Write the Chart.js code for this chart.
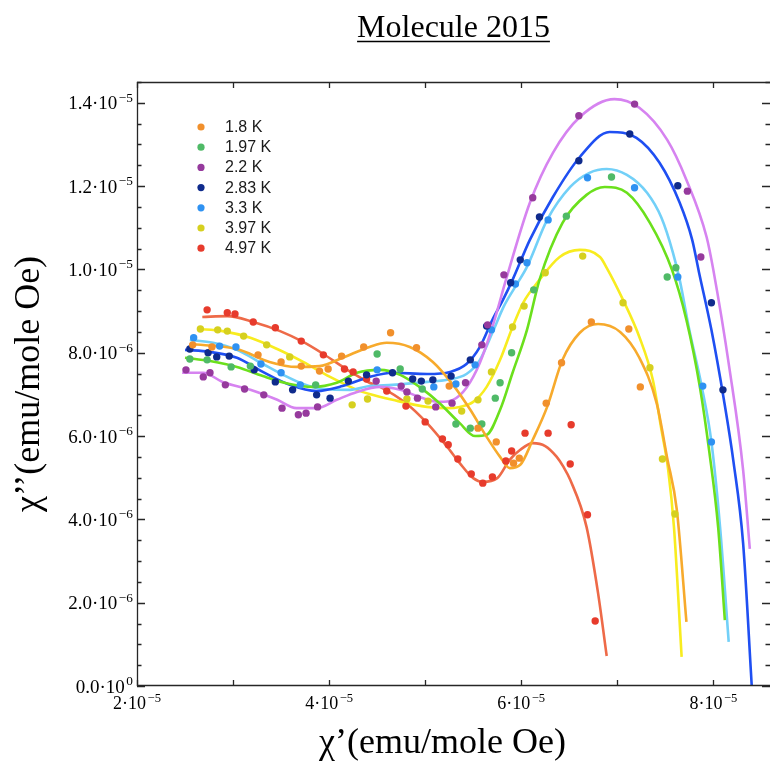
<!DOCTYPE html>
<html>
<head>
<meta charset="utf-8">
<script src="https://cdn.jsdelivr.net/npm/chart.js@4/dist/chart.umd.min.js"></script>
<style>
html,body{margin:0;padding:0;background:#ffffff;overflow:hidden;}
#wrap{width:770px;height:762px;position:relative;}
</style>
</head>
<body>
<div id="wrap"><canvas id="c" width="770" height="762"></canvas></div>
<script>
// ---- text ----
const titleText = 'Molecule 2015';
const xAxisTitle = 'χ’(emu/mole Oe)';
const yAxisTitle = 'χ’’(emu/mole Oe)';
const seriesLabels = ['1.8 K', '1.97 K', '2.2 K', '2.83 K', '3.3 K', '3.97 K', '4.97 K'];

// ---- axes (x in units of 1e-5, y in units of 1e-6) ----
const xMin = 2, xMax = 8.59, xStep = 1;
const yMin = 0, yMax = 14.5, yStep = 0.5;
const xTickValues = [2, 4, 6, 8];
const xTickLabels = ['2·10^−5', '4·10^−5', '6·10^−5', '8·10^−5'];
const yTickValues = [0, 2, 4, 6, 8, 10, 12, 14];
const yTickLabels = ['0.0·10^0', '2.0·10^−6', '4.0·10^−6', '6.0·10^−6', '8.0·10^−6', '1.0·10^−5', '1.2·10^−5', '1.4·10^−5'];

// ---- measured points [χ' (1e-5), χ'' (1e-6)] ----
const pts_1_8K = [[2.58,8.19],[2.78,8.14],[3.26,7.95],[3.50,7.78],[3.71,7.68],[3.90,7.56],[3.99,7.61],[4.13,7.92],[4.36,8.14],[4.64,8.48],[4.91,8.12],[5.25,7.20],[5.55,6.19],[5.74,5.86],[5.92,5.35],[5.98,5.47],[6.26,6.79],[6.42,7.76],[6.73,8.74],[7.12,8.57],[7.24,7.18]];
const pts_1_97K = [[2.55,7.85],[2.73,7.83],[2.98,7.66],[3.18,7.68],[3.86,7.23],[4.50,7.97],[4.74,7.61],[4.97,7.13],[5.32,6.29],[5.47,6.19],[5.59,6.29],[5.73,6.91],[5.78,7.28],[5.90,8.00],[6.13,9.51],[6.47,11.28],[6.94,12.22],[7.52,9.82],[7.61,10.04]];
const pts_2_2K = [[2.51,7.59],[2.69,7.42],[2.76,7.52],[2.92,7.23],[3.12,7.13],[3.32,6.99],[3.51,6.67],[3.68,6.51],[3.76,6.55],[3.88,6.70],[4.49,7.32],[4.75,7.20],[4.81,7.06],[4.92,6.91],[5.11,6.70],[5.28,6.79],[5.42,7.28],[5.59,8.19],[5.65,8.67],[5.82,9.87],[6.12,11.72],[6.60,13.69],[7.18,13.97],[7.73,11.88],[7.87,10.30]];
const pts_2_83K = [[2.55,8.09],[2.74,8.00],[2.83,7.90],[2.96,7.92],[3.22,7.59],[3.44,7.30],[3.62,7.11],[3.87,6.99],[4.01,6.91],[4.20,7.32],[4.39,7.47],[4.66,7.52],[4.87,7.37],[4.96,7.32],[5.08,7.35],[5.27,7.44],[5.47,7.83],[5.64,8.64],[5.89,9.68],[5.99,10.23],[6.19,11.26],[6.60,12.61],[7.13,13.25],[7.63,12.01],[7.98,9.20],[8.10,7.11]];
const pts_3_3K = [[2.59,8.36],[2.86,8.16],[3.03,8.14],[3.29,7.73],[3.50,7.52],[3.70,7.23],[4.50,7.59],[5.09,7.18],[5.32,7.25],[5.52,7.71],[5.69,8.55],[5.94,9.65],[6.06,10.16],[6.28,11.19],[6.69,12.20],[7.18,11.96],[7.63,9.82],[7.89,7.20],[7.98,5.86]];
const pts_3_97K = [[2.66,8.57],[2.84,8.55],[2.94,8.52],[3.11,8.40],[3.35,8.19],[3.59,7.90],[4.24,6.75],[4.40,6.89],[4.81,6.89],[5.03,6.84],[5.38,6.60],[5.55,6.87],[5.69,7.54],[5.91,8.62],[6.03,9.12],[6.25,9.92],[6.64,10.32],[7.06,9.20],[7.34,7.64],[7.47,5.45],[7.60,4.13]];
const pts_4_97K = [[2.73,9.03],[2.94,8.96],[3.02,8.93],[3.21,8.74],[3.44,8.60],[3.71,8.28],[3.94,7.95],[4.16,7.61],[4.25,7.54],[4.39,7.37],[4.60,7.08],[4.80,6.72],[5.00,6.34],[5.18,5.93],[5.24,5.79],[5.34,5.45],[5.48,5.09],[5.60,4.87],[5.70,5.02],[5.84,5.40],[5.90,5.64],[6.04,6.07],[6.28,6.07],[6.52,6.27],[6.51,5.33],[6.69,4.11],[6.77,1.56]];

// ---- fitted curves ----
const fit_1_8K = [[2.55,8.21],[3.04,8.09],[3.38,7.78],[3.66,7.66],[3.90,7.68],[4.14,7.88],[4.42,8.14],[4.60,8.24],[4.84,8.14],[5.08,7.78],[5.29,7.23],[5.47,6.63],[5.64,5.98],[5.78,5.50],[5.88,5.23],[5.99,5.31],[6.12,5.91],[6.27,6.70],[6.43,7.83],[6.61,8.48],[6.80,8.69],[7.03,8.50],[7.23,7.88],[7.41,6.79],[7.52,5.47],[7.62,4.23],[7.72,1.54]];
const fit_1_97K = [[2.50,7.88],[2.76,7.80],[3.04,7.66],[3.31,7.44],[3.59,7.25],[3.83,7.18],[4.08,7.28],[4.29,7.52],[4.53,7.59],[4.74,7.47],[4.94,7.18],[5.15,6.79],[5.36,6.31],[5.52,6.00],[5.64,6.03],[5.78,6.63],[5.91,7.52],[6.06,8.55],[6.19,9.75],[6.43,11.12],[6.68,11.79],[6.87,11.98],[7.10,11.84],[7.34,11.12],[7.57,9.99],[7.72,8.79],[7.86,7.18],[7.96,5.59],[8.05,3.82],[8.12,1.58]];
const fit_2_2K = [[2.47,7.52],[2.69,7.52],[2.89,7.30],[3.18,7.11],[3.46,6.87],[3.66,6.67],[3.87,6.67],[4.08,6.87],[4.29,7.06],[4.53,7.18],[4.74,7.11],[4.94,6.94],[5.15,6.82],[5.29,6.87],[5.43,7.16],[5.57,7.76],[5.70,8.62],[5.85,9.82],[6.09,11.60],[6.33,12.80],[6.61,13.66],[6.97,14.09],[7.23,13.88],[7.52,13.11],[7.72,12.15],[7.93,10.78],[8.00,9.99],[8.17,7.59],[8.31,5.19],[8.38,3.29]];
const fit_2_83K = [[2.50,8.07],[2.76,8.02],[3.04,7.88],[3.31,7.54],[3.59,7.23],[3.87,7.08],[4.14,7.20],[4.42,7.42],[4.66,7.52],[5.02,7.49],[5.26,7.54],[5.43,7.73],[5.57,8.14],[5.70,8.79],[5.81,9.27],[5.91,9.75],[6.09,10.71],[6.33,11.74],[6.61,12.70],[6.92,13.30],[7.20,13.16],[7.44,12.56],[7.65,11.60],[7.78,10.71],[7.85,9.94],[7.98,8.55],[8.11,6.87],[8.21,5.38],[8.31,3.43],[8.40,0.00]];
const fit_3_3K = [[2.55,8.31],[2.79,8.24],[3.04,8.07],[3.31,7.73],[3.52,7.47],[3.73,7.25],[3.94,7.13],[4.22,7.11],[4.42,7.20],[4.66,7.23],[5.02,7.30],[5.23,7.35],[5.43,7.49],[5.57,7.83],[5.70,8.48],[5.82,9.12],[5.95,9.63],[6.06,10.06],[6.27,11.19],[6.51,11.98],[6.71,12.32],[6.89,12.41],[7.10,12.27],[7.31,11.84],[7.46,11.24],[7.58,10.40],[7.65,9.75],[7.75,8.55],[7.88,7.18],[7.98,5.86],[8.07,3.82],[8.16,1.06]];
const fit_3_97K = [[2.63,8.57],[2.89,8.52],[3.18,8.36],[3.46,8.09],[3.73,7.78],[4.01,7.42],[4.29,7.11],[4.42,7.01],[4.66,6.87],[5.02,6.70],[5.23,6.67],[5.36,6.70],[5.50,6.82],[5.64,7.18],[5.78,7.83],[5.91,8.62],[6.02,9.20],[6.19,9.75],[6.40,10.30],[6.61,10.47],[6.82,10.30],[6.89,10.04],[7.06,9.27],[7.23,8.38],[7.37,7.35],[7.46,6.15],[7.53,5.19],[7.59,3.82],[7.67,0.70]];
const fit_4_97K = [[2.68,8.86],[2.94,8.88],[3.21,8.74],[3.49,8.52],[3.73,8.26],[3.94,7.97],[4.19,7.59],[4.42,7.28],[4.53,7.18],[4.81,6.77],[5.02,6.31],[5.23,5.74],[5.36,5.35],[5.50,4.99],[5.60,4.90],[5.75,4.99],[5.88,5.43],[5.99,5.67],[6.12,5.83],[6.25,5.76],[6.37,5.50],[6.44,5.26],[6.51,4.95],[6.68,3.82],[6.80,2.23],[6.89,0.72]];

const pointSets = [pts_1_8K, pts_1_97K, pts_2_2K, pts_2_83K, pts_3_3K, pts_3_97K, pts_4_97K];
const fitSets = [fit_1_8K, fit_1_97K, fit_2_2K, fit_2_83K, fit_3_3K, fit_3_97K, fit_4_97K];

// ---- colours ----
const pointColors = ['#f1902c', '#4fba67', '#963a9d', '#0f2b8c', '#2f92f2', '#d6d01f', '#e73b2c'];
const curveColors = ['#f7aa2c', '#6be01c', '#d683f0', '#1f4ff2', '#72d0f8', '#f8ec1f', '#ee6a48'];

const serif = '"Liberation Serif", "Times New Roman", "DejaVu Serif", serif';
const toXY = arr => arr.map(p => ({x: p[0], y: p[1]}));

const datasets = [];
pointSets.forEach((arr, i) => {
  datasets.push({
    label: seriesLabels[i], data: toXY(arr), showLine: false, order: 0,
    pointRadius: 3.7, pointHoverRadius: 3.7, pointBorderWidth: 0,
    backgroundColor: pointColors[i], borderColor: pointColors[i]
  });
});
fitSets.forEach((arr, i) => {
  datasets.push({
    label: seriesLabels[i] + ' fit', data: toXY(arr), showLine: true, order: 1,
    pointRadius: 0, pointHoverRadius: 0, borderWidth: 2.6,
    borderColor: curveColors[i], backgroundColor: curveColors[i],
    cubicInterpolationMode: 'monotone', fill: false
  });
});

function labelFor(values, labels, v) {
  for (let i = 0; i < values.length; i++) if (Math.abs(values[i] - v) < 1e-6) return labels[i];
  return '';
}

// draws "base·10" with a raised exponent
function drawSci(ctx, label, x, y, align, size) {
  const parts = label.split('^');
  const base = parts[0], exp = parts[1] || '';
  const bf = size + 'px ' + serif, ef = (size * 0.7) + 'px ' + serif;
  ctx.font = bf; const bw = ctx.measureText(base).width;
  ctx.font = ef; const ew = ctx.measureText(exp).width;
  const gap = 1.5;
  const total = bw + gap + ew;
  const sx = align === 'right' ? x - total : (align === 'center' ? x - total / 2 : x);
  ctx.textAlign = 'left';
  ctx.textBaseline = 'alphabetic';
  ctx.font = bf; ctx.fillText(base, sx, y);
  ctx.font = ef; ctx.fillText(exp, sx + bw + gap, y - size * 0.4);
}

const decor = {
  id: 'decor',
  afterDatasetsDraw(chart) {
    const {ctx, chartArea: a, scales: {x, y}} = chart;
    ctx.save();
    // legend inside plot
    ctx.font = '16px "Liberation Sans", Arial, sans-serif';
    ctx.textBaseline = 'middle';
    ctx.textAlign = 'left';
    seriesLabels.forEach((lab, i) => {
      const cy = a.top + 45 + i * 20.2;
      ctx.fillStyle = pointColors[i];
      ctx.beginPath(); ctx.arc(a.left + 64, cy, 3.6, 0, Math.PI * 2); ctx.fill();
      ctx.fillStyle = '#1a1a1a';
      ctx.fillText(lab, a.left + 88, cy + 0.5);
    });
    // frame (right edge lies at the canvas border)
    ctx.strokeStyle = '#262626';
    ctx.lineWidth = 1.3;
    ctx.beginPath();
    ctx.moveTo(a.right + 2, a.top + 0.5); ctx.lineTo(a.left + 0.5, a.top + 0.5);
    ctx.lineTo(a.left + 0.5, a.bottom - 0.5); ctx.lineTo(a.right + 2, a.bottom - 0.5);
    ctx.stroke();
    // ticks pointing inward
    ctx.beginPath();
    x.ticks.forEach(t => {
      const px = Math.round(x.getPixelForValue(t.value)) + 0.5;
      ctx.moveTo(px, a.bottom); ctx.lineTo(px, a.bottom - 6);
      ctx.moveTo(px, a.top); ctx.lineTo(px, a.top + 6);
    });
    y.ticks.forEach(t => {
      const py = Math.round(y.getPixelForValue(t.value)) + 0.5;
      const major = labelFor(yTickValues, yTickLabels, t.value) !== '';
      const len = major ? 8 : 4.5;
      ctx.moveTo(a.left, py); ctx.lineTo(a.left + len, py);
      ctx.moveTo(a.right, py); ctx.lineTo(a.right - len, py);
    });
    ctx.stroke();
    // tick labels
    ctx.fillStyle = '#000';
    yTickValues.forEach((v, i) => drawSci(ctx, yTickLabels[i], a.left - 4, y.getPixelForValue(v) + 6.5, 'right', 19));
    xTickValues.forEach((v, i) => drawSci(ctx, xTickLabels[i], x.getPixelForValue(v), a.bottom + 23, 'center', 18));
    // x axis title
    ctx.font = '36px ' + serif;
    ctx.textAlign = 'center';
    ctx.textBaseline = 'middle';
    ctx.fillText(xAxisTitle, (a.left + a.right) / 2 - 11, a.bottom + 58);
    // title with underline
    ctx.font = '32px ' + serif;
    ctx.textAlign = 'center';
    ctx.textBaseline = 'alphabetic';
    const cx = (a.left + a.right) / 2;
    ctx.fillText(titleText, cx, 37);
    const w = ctx.measureText(titleText).width;
    ctx.lineWidth = 1.4;
    ctx.strokeStyle = '#000';
    ctx.beginPath(); ctx.moveTo(cx - w / 2, 41.5); ctx.lineTo(cx + w / 2, 41.5); ctx.stroke();
    ctx.restore();
  }
};

new Chart(document.getElementById('c'), {
  type: 'scatter',
  data: {datasets},
  options: {
    responsive: false,
    animation: false,
    devicePixelRatio: 1,
    layout: {autoPadding: false, padding: {top: 82, right: 0, bottom: 0, left: 0}},
    plugins: {legend: {display: false}, tooltip: {enabled: false}, title: {display: false}},
    scales: {
      x: {
        type: 'linear', min: xMin, max: xMax,
        afterFit: s => { s.height = 76; s.paddingLeft = 0; s.paddingRight = 0; },
        grid: {display: false, drawTicks: false},
        border: {display: false},
        ticks: {display: false, stepSize: xStep, includeBounds: false, autoSkip: false, maxRotation: 0},
        title: {display: false}
      },
      y: {
        type: 'linear', min: yMin, max: yMax,
        afterFit: s => { s.width = 137; s.paddingTop = 0; s.paddingBottom = 0; },
        grid: {display: false, drawTicks: false},
        border: {display: false},
        ticks: {display: false, stepSize: yStep, includeBounds: false, autoSkip: false},
        title: {display: true, text: yAxisTitle, color: '#000', font: {family: serif, size: 36, lineHeight: 1}, padding: {top: 12, bottom: 0}}
      }
    }
  },
  plugins: [decor]
});
</script>
</body>
</html>
